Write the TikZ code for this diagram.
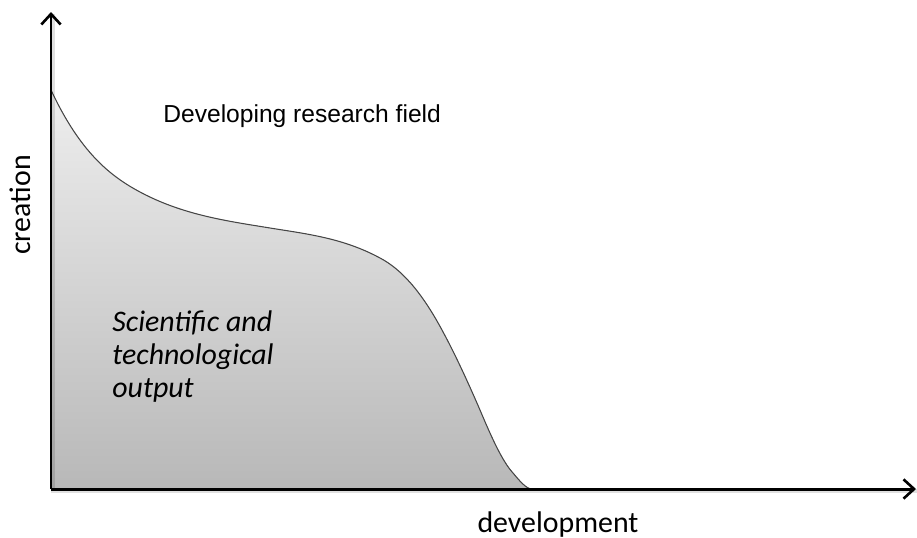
\documentclass[tikz,border=0pt]{standalone}
\usepackage{fontspec}
\setmainfont{Carlito}
\newfontfamily\labelfont{Liberation Sans}
\usetikzlibrary{arrows.meta}

\definecolor{areatop}{RGB}{238,238,238}
\definecolor{areabottom}{RGB}{184,184,184}
\definecolor{curveline}{RGB}{70,70,70}

% Verlauf der Kurve (Pixel-Koordinaten, y nach unten)
\newcommand{\outputcurve}{
    (51,90) .. controls (80,152) and (110,176) .. (140,192)
    .. controls (183,215) and (227,221) .. (270,228)
    .. controls (307,234) and (343,238) .. (380,258)
    .. controls (401,269) and (421,291) .. (442,330)
    .. controls (455,354) and (467,380) .. (480,410)
    .. controls (491,436) and (502,461) .. (513,473)
    .. controls (519,480) and (526,489) .. (532,489)}

\begin{document}
\begin{tikzpicture}[
    x=0.02cm, y=-0.02cm,
    font=\fontsize{17}{20}\selectfont,
    % Stile
    axis/.style={line width=1.7pt, -{Straight Barb[length=6pt, width=11pt, line width=1.5pt]}},
    axisshadow/.style={line width=2.5pt, black, opacity=0.12},
    area/.style={top color=areatop, bottom color=areabottom},
    curve/.style={draw=curveline, line width=0.6pt},
    axislabel/.style={inner sep=0pt},
    fieldlabel/.style={font=\labelfont\fontsize{14}{17}\selectfont, inner sep=0pt, anchor=base west},
    arealabel/.style={font=\itshape\fontsize{17}{18.5}\selectfont, align=left, inner sep=0pt, anchor=base west}
]
    \useasboundingbox (0,0) rectangle (917,538);

    % Achsen-Eckpunkte
    \coordinate (origin) at (51,489);
    \coordinate (ytip) at (51,12);
    \coordinate (xtip) at (916,489);

    % Fläche unter der Kurve
    \fill[area] (origin) -- \outputcurve -- cycle;

    % Kurve
    \draw[curve] \outputcurve;

    % Achsen mit leichtem Schatten
    \draw[axisshadow] ([shift={(2,2)}]ytip) -- ([shift={(2,2)}]origin) -- ([shift={(2,2)}]xtip);
    \draw[axis] (origin) -- (ytip);
    \draw[axis] (origin) -- (xtip);

    % Beschriftungen
    \node[axislabel, rotate=90] (ylabel) at (20,205) {creation};
    \node[axislabel, anchor=base] (xlabel) at (558,532) {development};
    \node[fieldlabel] (field) at (163,122) {Developing research field};
    \node[arealabel] (output) at (112,397) {Scientific and\\technological\\output};

\end{tikzpicture}
\end{document}
